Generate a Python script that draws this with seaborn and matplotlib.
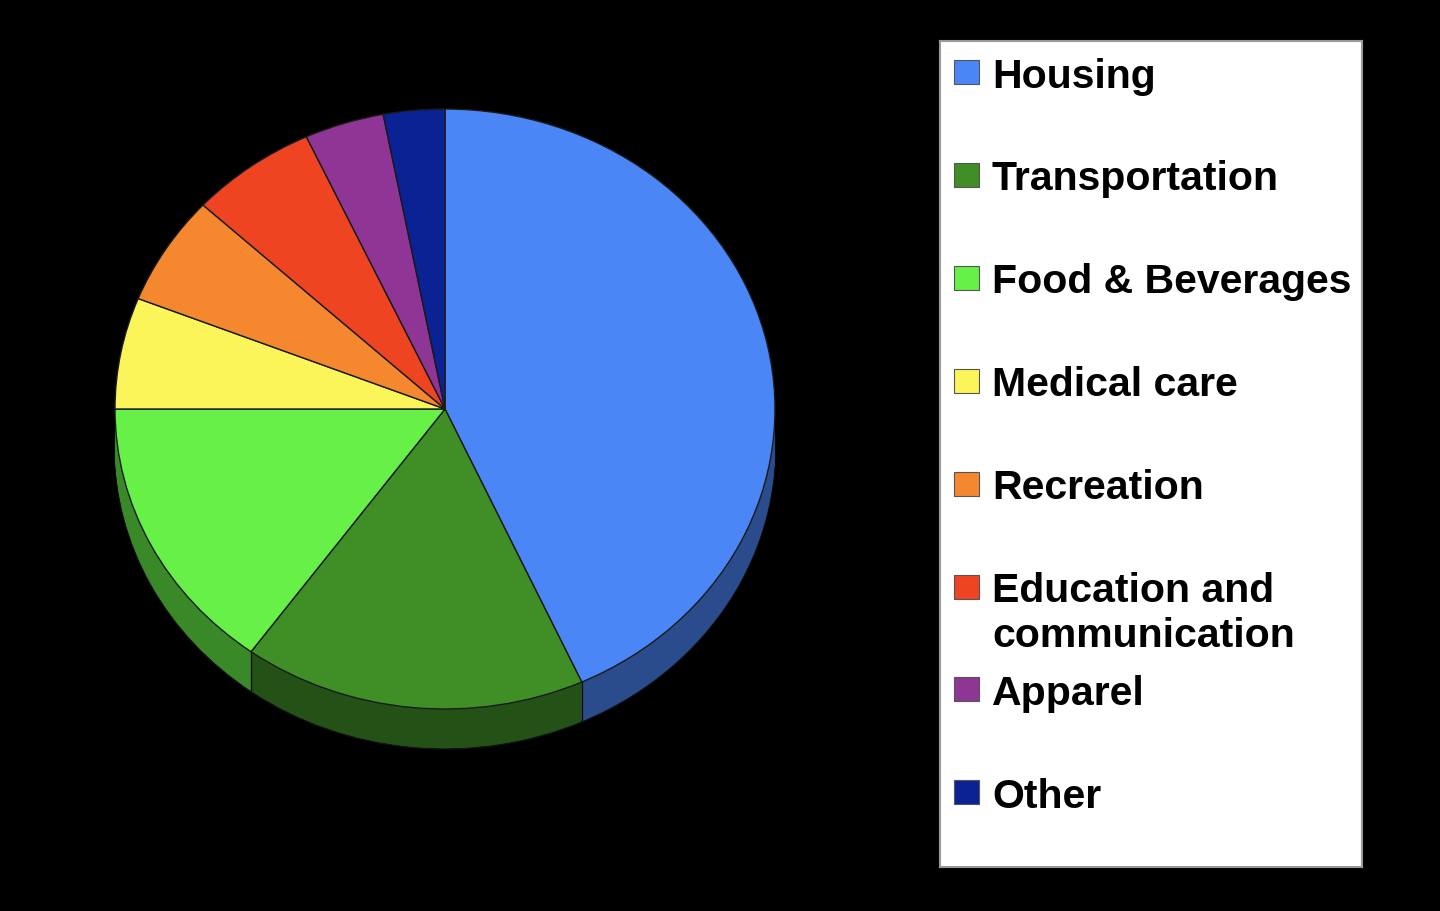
import matplotlib
matplotlib.use("Agg")
import matplotlib.pyplot as plt
import matplotlib.colors as mcolors
from matplotlib.patches import Rectangle
import numpy as np
import seaborn as sns

sns.set_theme(style="white")
plt.rcParams["font.family"] = ["Liberation Sans", "DejaVu Sans"]

# shares of spending, clockwise from 12 o'clock
categories = ["Housing", "Transportation", "Food & Beverages", "Medical care",
              "Recreation", "Education and\ncommunication", "Apparel", "Other"]
shares = [43.2, 16.8, 15.0, 6.0, 5.9, 6.2, 3.9, 3.0]
colors = ["#4a86f5", "#3f8f26", "#66f048", "#fcf55a",
          "#f5882f", "#ee4422", "#8e3596", "#0a2294"]

# darker tone for the side of the "3d" disc
side_colors = [tuple(c * 0.57 for c in mcolors.to_rgb(col)) for col in colors]

W, H = 1440, 912
fig = plt.figure(figsize=(W / 100, H / 100), dpi=100, facecolor="black")

# pie geometry in pixels
cx, cy, rx, ry, depth_px = 445, 410, 330, 300, 40
left, right, top, bottom = 100, 790, 95, 775
ax = fig.add_axes([left / W, (H - bottom) / H, (right - left) / W, (bottom - top) / H])
ax.set_facecolor("black")
depth = depth_px / ry

# side of the disc: stacked copies of the pie, darkened
layers = np.linspace(depth, 0.004, 40)
for i, d in enumerate(layers):
    ax.pie(shares, colors=side_colors, startangle=90, counterclock=False,
           center=(0, -d),
           wedgeprops=dict(linewidth=1.0 if i == 0 else 0,
                           edgecolor="#111111"))

# slice borders on the side
bounds = np.cumsum(shares) / np.sum(shares) * 360
for b in bounds[:-1]:
    th = np.deg2rad(90 - b)
    x, y = np.cos(th), np.sin(th)
    if y < -0.02:
        ax.plot([x, x], [y, y - depth], color="#111111", lw=1.0)

# top face
ax.pie(shares, colors=colors, startangle=90, counterclock=False,
       wedgeprops=dict(linewidth=1.0, edgecolor="#1a1a1a"))

ax.set_aspect("auto")
ax.set_xlim((left - cx) / rx, (right - cx) / rx)
ax.set_ylim((cy - bottom) / ry, (cy - top) / ry)
ax.axis("off")

# legend box
lx0, ly0, lx1, ly1 = 940, 42, 1362, 868
lax = fig.add_axes([lx0 / W, (H - ly1) / H, (lx1 - lx0) / W, (ly1 - ly0) / H])
lax.set_facecolor("white")
lax.set_xlim(0, lx1 - lx0)
lax.set_ylim(ly1 - ly0, 0)
lax.set_xticks([])
lax.set_yticks([])
for s in lax.spines.values():
    s.set_color("#9a9a9a")
    s.set_linewidth(1.5)

row0, step = 31, 102.9
for i, (lab, col) in enumerate(zip(categories, colors)):
    yc = row0 + i * step
    lax.add_patch(Rectangle((14, yc - 12), 25, 24, facecolor=col,
                            edgecolor="#555555", lw=0.8))
    lax.text(52, yc - 15.5, lab, fontsize=29.5, fontweight="bold", color="black",
             va="top", ha="left", linespacing=1.25)

fig.savefig("out.png", dpi=100, facecolor="black")
